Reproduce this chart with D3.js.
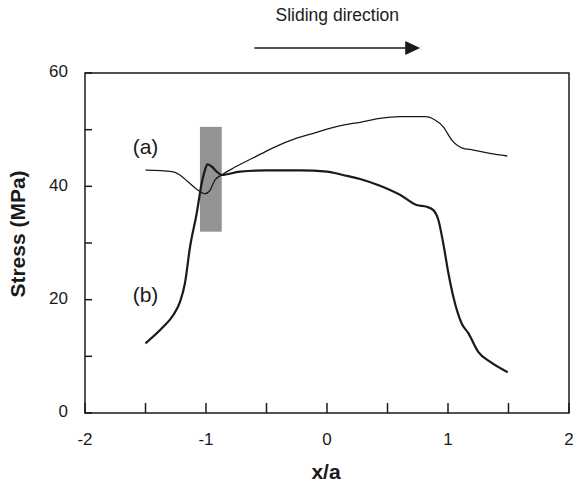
<!DOCTYPE html>
<html>
<head>
<meta charset="utf-8">
<script src="https://cdn.jsdelivr.net/npm/d3@7"></script>
<style>
  body { margin: 0; background: #fff; }
  svg { display: block; font-family: "Liberation Sans", Arial, sans-serif; }
</style>
</head>
<body>
<svg id="chart" width="573" height="485"></svg>
<script>
// curve (a): thin line
const aX = [-1.5, -1.28, -1.215, -1.149, -1.077, -1.008, -0.967, -0.926, -0.87, -0.777, -0.612, -0.446, -0.25, -0.113, 0, 0.132, 0.273, 0.438, 0.603, 0.81, 0.893, 0.961, 1.03, 1.113, 1.21, 1.347, 1.49];
const aY = [42.85, 42.6, 42.0, 40.8, 39.5, 38.7, 39.3, 41.1, 42.0, 43.2, 45.0, 46.8, 48.5, 49.35, 50.1, 50.8, 51.3, 52.0, 52.3, 52.3, 51.7, 50.5, 48.2, 46.8, 46.4, 45.8, 45.35];

// curve (b): thick line
const bX = [-1.5, -1.353, -1.27, -1.215, -1.174, -1.132, -1.077, -1.036, -1.008, -0.989, -0.953, -0.912, -0.87, -0.719, -0.498, -0.223, 0, 0.132, 0.273, 0.438, 0.603, 0.741, 0.824, 0.879, 0.92, 0.961, 1.003, 1.044, 1.113, 1.168, 1.25, 1.347, 1.493];
const bY = [12.3, 15.2, 17.3, 19.6, 22.9, 29.3, 35.2, 40.5, 42.9, 43.9, 43.5, 42.6, 42.0, 42.6, 42.8, 42.8, 42.6, 42.0, 41.3, 40.1, 38.5, 36.7, 36.4, 35.8, 34.1, 29.9, 24.7, 20.5, 15.8, 14.1, 10.8, 9.05, 7.2];

const xTicks = [-2, -1.5, -1, -0.5, 0, 0.5, 1, 1.5, 2];
const xLabels = [-2, -1, 0, 1, 2];
const yTicks = [0, 10, 20, 30, 40, 50, 60];
const yLabels = [0, 20, 40, 60];

// shaded contact zone and sliding arrow (data units)
const zoneX = [-1.05, -0.87];
const zoneY = [32, 50.5];
const arrowX = [-0.6, 0.77];

const svg = d3.select("#chart");
const margin = { top: 73, right: 4, bottom: 72, left: 85 };
const W = 573, H = 485;

const x = d3.scaleLinear().domain([-2, 2]).range([margin.left, W - margin.right]);
const y = d3.scaleLinear().domain([0, 60]).range([H - margin.bottom, margin.top]);

const ink = "#1a1a1a";

// gray zone
svg.append("rect")
  .attr("x", x(zoneX[0]))
  .attr("y", y(zoneY[1]))
  .attr("width", x(zoneX[1]) - x(zoneX[0]))
  .attr("height", y(zoneY[0]) - y(zoneY[1]))
  .attr("fill", "#939393");

// ticks (inward)
svg.append("g")
  .selectAll("line")
  .data(xTicks)
  .join("line")
  .attr("x1", d => x(d)).attr("x2", d => x(d))
  .attr("y1", y(0)).attr("y2", y(0) - 10)
  .attr("stroke", ink).attr("stroke-width", 1.5);

svg.append("g")
  .selectAll("line")
  .data(yTicks)
  .join("line")
  .attr("x1", x(-2)).attr("x2", x(-2) + 7)
  .attr("y1", d => y(d)).attr("y2", d => y(d))
  .attr("stroke", ink).attr("stroke-width", 1.5);

// frame
svg.append("rect")
  .attr("x", x(-2)).attr("y", y(60))
  .attr("width", x(2) - x(-2)).attr("height", y(0) - y(60))
  .attr("fill", "none").attr("stroke", ink).attr("stroke-width", 1.5);

// tick labels
svg.append("g")
  .selectAll("text")
  .data(xLabels)
  .join("text")
  .attr("x", d => x(d))
  .attr("y", y(0) + 28)
  .attr("text-anchor", "middle")
  .attr("dominant-baseline", "middle")
  .attr("font-size", 17)
  .attr("fill", ink)
  .text(d => d);

svg.append("g")
  .selectAll("text")
  .data(yLabels)
  .join("text")
  .attr("x", x(-2) - 17)
  .attr("y", d => y(d))
  .attr("text-anchor", "end")
  .attr("dominant-baseline", "middle")
  .attr("font-size", 17)
  .attr("fill", ink)
  .text(d => d);

// axis titles
svg.append("text")
  .attr("x", x(0) - 1)
  .attr("y", 479)
  .attr("text-anchor", "middle")
  .attr("font-size", 21)
  .attr("font-weight", "bold")
  .attr("fill", ink)
  .text("x/a");

svg.append("text")
  .attr("transform", "translate(25,234) rotate(-90)")
  .attr("text-anchor", "middle")
  .attr("font-size", 21)
  .attr("font-weight", "bold")
  .attr("fill", ink)
  .text("Stress (MPa)");

// curves
const line = d3.line()
  .curve(d3.curveMonotoneX)
  .x(d => x(d[0]))
  .y(d => y(d[1]));

svg.append("path")
  .attr("d", line(d3.zip(aX, aY)))
  .attr("fill", "none")
  .attr("stroke", ink)
  .attr("stroke-width", 1.3);

svg.append("path")
  .attr("d", line(d3.zip(bX, bY)))
  .attr("fill", "none")
  .attr("stroke", ink)
  .attr("stroke-width", 2.2);

// curve labels
svg.append("text")
  .attr("x", x(-1.5)).attr("y", y(46.6))
  .attr("text-anchor", "middle")
  .attr("dominant-baseline", "middle")
  .attr("font-size", 21)
  .attr("fill", ink)
  .text("(a)");

svg.append("text")
  .attr("x", x(-1.5)).attr("y", y(20.5))
  .attr("text-anchor", "middle")
  .attr("dominant-baseline", "middle")
  .attr("font-size", 21)
  .attr("fill", ink)
  .text("(b)");

// sliding direction
const arrowY = 48;
svg.append("text")
  .attr("x", (x(arrowX[0]) + x(arrowX[1])) / 2)
  .attr("y", 16)
  .attr("text-anchor", "middle")
  .attr("dominant-baseline", "middle")
  .attr("font-size", 17.5)
  .attr("fill", ink)
  .text("Sliding direction");

svg.append("line")
  .attr("x1", x(arrowX[0])).attr("x2", x(arrowX[1]) - 14)
  .attr("y1", arrowY).attr("y2", arrowY)
  .attr("stroke", ink).attr("stroke-width", 1.5);

svg.append("path")
  .attr("d", d3.line()([
    [x(arrowX[1]) - 15, arrowY - 7],
    [x(arrowX[1]), arrowY],
    [x(arrowX[1]) - 15, arrowY + 7]
  ]))
  .attr("fill", ink);
</script>
</body>
</html>
